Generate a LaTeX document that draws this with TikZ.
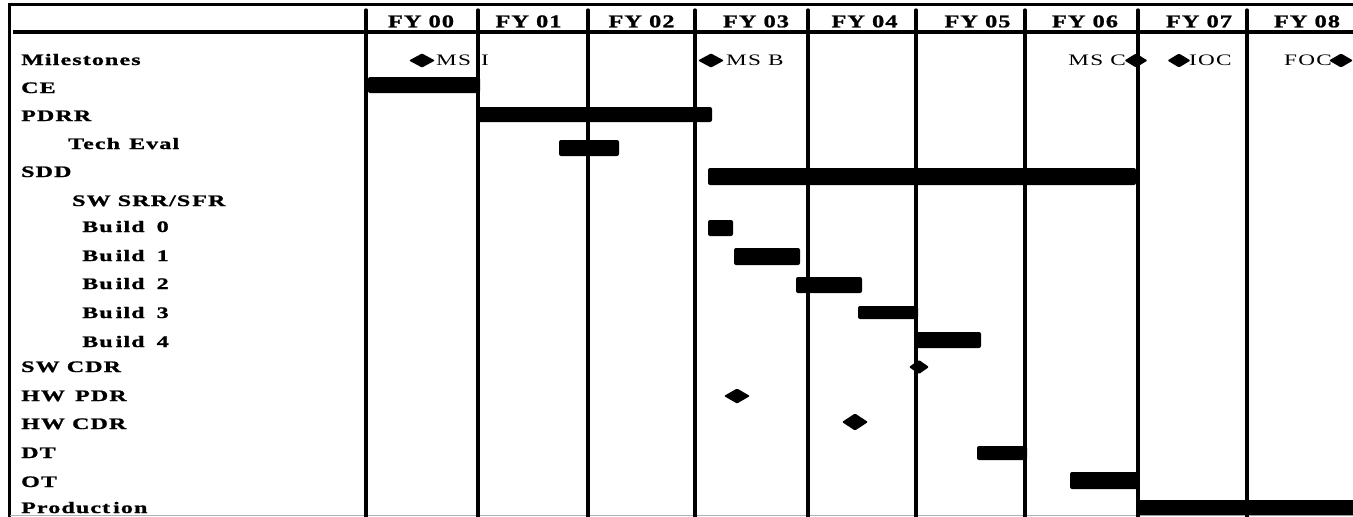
\documentclass[tikz,border=0pt]{standalone}
\usepackage{fontspec}
\setmainfont{Liberation Serif}[FakeStretch=1.5,LetterSpace=7,BoldFeatures={FakeBold=1.2}]
\newfontfamily\yearfont{Liberation Serif}[FakeStretch=1.35,LetterSpace=6,BoldFeatures={FakeBold=1.2}]
\newfontfamily\eventfont{Liberation Serif}[FakeStretch=1.45,LetterSpace=8]
% filled Gantt bar from (x1,y1) to (x2,y2)
\newcommand\ganttbar[4]{\fill[barfill] (#1,#2) rectangle (#3,#4);}
% filled milestone diamond: centre x, centre y, width, height
\newcommand\milestone[4]{\fill[msfill] ({#1-#3/2},#2) -- (#1,{#2-#4/2}) -- ({#1+#3/2},#2) -- (#1,{#2+#4/2}) -- cycle;}
\begin{document}
\begin{tikzpicture}[x=1pt,y=-1pt,
  rowlabel/.style={anchor=base west,inner sep=0pt,font=\fontsize{16}{16}\selectfont\bfseries},
  yearlabel/.style={anchor=base,inner sep=0pt,font=\yearfont\fontsize{18}{18}\selectfont\bfseries},
  eventlabel/.style={inner sep=0pt,font=\eventfont\fontsize{16}{16}\selectfont},
  frameline/.style={line width=3pt},
  gridline/.style={line width=3.3pt,line cap=round},
  barfill/.style={fill=black,rounded corners=2pt},
  msfill/.style={fill=black,rounded corners=1pt}]
\useasboundingbox (0,0) rectangle (1353,517);

% frame and header rule
\draw[frameline] (9,3) -- (9,517);
\draw[frameline] (8,4) -- (1353,4);
\draw[line width=3.4pt] (13,32) -- (1353,32);
\draw[gray!60,line width=1pt] (10,515.5) -- (1353,515.5);

% fiscal-year column rules
\foreach \gx in {366,478,588,695,808,916,1025,1138,1247}
  \draw[gridline] (\gx,10) -- (\gx,518);

% year headings
\node[yearlabel] (fy00) at (421,27.3) {FY 00};
\node[yearlabel] (fy01) at (528.5,27.3) {FY 01};
\node[yearlabel] (fy02) at (641.5,27.3) {FY 02};
\node[yearlabel] (fy03) at (756,27.3) {FY 03};
\node[yearlabel] (fy04) at (864.5,27.3) {FY 04};
\node[yearlabel] (fy05) at (977.5,27.3) {FY 05};
\node[yearlabel] (fy06) at (1085,27.3) {FY 06};
\node[yearlabel] (fy07) at (1199,27.3) {FY 07};
\node[yearlabel] (fy08) at (1307,27.3) {FY 08};

% task names
\node[rowlabel] (rMS)   at (21,65)   {Milestones};
\node[rowlabel] (rCE)   at (21,93)   {CE};
\node[rowlabel] (rPDRR) at (21,121)  {PDRR};
\node[rowlabel] (rTE)   at (68,149)  {Tech\hspace{2pt} Eval};
\node[rowlabel] (rSDD)  at (21,177)  {SDD};
\node[rowlabel] (rSRR)  at (72,206)  {SW SRR/S\kern2pt FR};
\node[rowlabel] (rB0)   at (82,232)  {Bu\kern3pt ild\hspace{5pt} 0};
\node[rowlabel] (rB1)   at (82,261)  {Bu\kern3pt ild\hspace{5pt} 1};
\node[rowlabel] (rB2)   at (82,289)  {Bu\kern3pt ild\hspace{5pt} 2};
\node[rowlabel] (rB3)   at (82,318)  {Bu\kern3pt ild\hspace{5pt} 3};
\node[rowlabel] (rB4)   at (82,347)  {Bu\kern3pt ild\hspace{5pt} 4};
\node[rowlabel] (rSWC)  at (21,372)  {SW CDR};
\node[rowlabel] (rHWP)  at (21,401)  {HW\hspace{3pt} PDR};
\node[rowlabel] (rHWC)  at (21,429)  {HW CDR};
\node[rowlabel] (rDT)   at (21,458)  {DT};
\node[rowlabel] (rOT)   at (21,487)  {OT};
\node[rowlabel] (rPR)   at (21,513)  {Product\kern3pt ion};

% activity bars
\ganttbar{368}{77}{480}{93}      % CE
\ganttbar{477}{107}{712}{122}    % PDRR
\ganttbar{559}{140}{619}{156}    % Tech Eval
\ganttbar{708}{168}{1136}{185}   % SDD
\ganttbar{708}{220}{733}{236}    % Build 0
\ganttbar{734}{248}{800}{265}    % Build 1
\ganttbar{796}{277}{862}{293}    % Build 2
\ganttbar{858}{306}{918}{319}    % Build 3
\ganttbar{915}{332}{981}{348}    % Build 4
\ganttbar{977}{446}{1027}{460}   % DT
\ganttbar{1070}{472}{1138}{489}  % OT
\ganttbar{1138}{500}{1356}{515}  % Production

% milestone names
\node[eventlabel,anchor=base west] (tMSI) at (436,65.7) {MS\hspace{3pt} I};
\node[eventlabel,anchor=base west] (tMSB) at (726,65.7) {MS B};
\node[eventlabel,anchor=base east] (tMSC) at (1126,65.7) {MS C};
\node[eventlabel,anchor=base west] (tIOC) at (1189,65.7) {IOC};
\node[eventlabel,anchor=base west] (tFOC) at (1284,65.7) {FOC};

% milestone diamonds
\milestone{422}{60.5}{26}{14}
\milestone{711}{60.5}{26}{14}
\milestone{1136}{60.5}{23}{14}
\milestone{1179}{60.5}{23}{14}
\milestone{1341}{60.5}{24}{14}
\milestone{919}{367}{20}{14}   % SW CDR
\milestone{737}{396}{26}{15}   % HW PDR
\milestone{855}{422}{26}{17}   % HW CDR
\end{tikzpicture}
\end{document}
